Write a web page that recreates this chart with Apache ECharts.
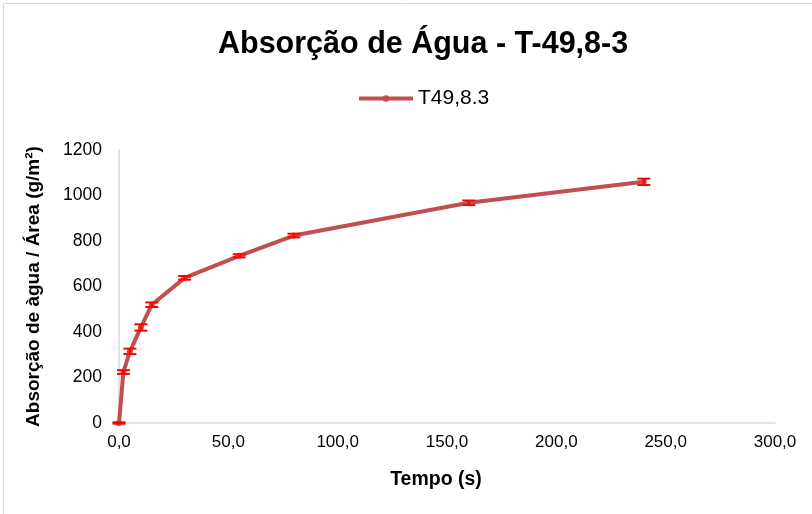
<!DOCTYPE html>
<html><head><meta charset="utf-8">
<script src="https://cdn.jsdelivr.net/npm/echarts@6/dist/echarts.min.js"></script>
<style>html,body{margin:0;padding:0;background:#fff}#c{width:812px;height:514px}</style>
</head><body><div id="c"></div>
<script>
const tempo = [0, 2, 5, 10, 15, 30, 55, 80, 160, 240];
const absorcao = [0, 224, 315, 420, 520, 638, 735, 824, 968, 1060];
const erro = [3, 8, 12, 14, 10, 8, 7, 8, 10, 14];
const seriesName = 'T49,8.3';

const lineData = tempo.map((t, i) => [t, absorcao[i]]);
const errData = tempo.map((t, i) => [t, absorcao[i] - erro[i], absorcao[i] + erro[i]]);

const FONT = 'Liberation Sans, Arial, sans-serif';
const chart = echarts.init(document.getElementById('c'));
chart.setOption({
  animation: false,
  backgroundColor: '#fff',
  graphic: [
    {type: 'line', shape: {x1: 3.5, y1: 3.5, x2: 812, y2: 3.5}, style: {stroke: '#D9D9D9', lineWidth: 1}},
    {type: 'line', shape: {x1: 3.5, y1: 3.5, x2: 3.5, y2: 514}, style: {stroke: '#D9D9D9', lineWidth: 1}}
  ],
  title: {
    text: 'Absorção de Água - T-49,8-3',
    left: 213, top: 24,
    textStyle: {fontFamily: FONT, fontSize: 30.5, fontWeight: 'bold', color: '#000'}
  },
  legend: {
    top: 83, left: 352,
    itemWidth: 54, itemHeight: 8, itemGap: 10,
    lineStyle: {width: 4},
    textStyle: {fontFamily: FONT, fontSize: 21, color: '#000'},
    data: [seriesName]
  },
  grid: {left: 119, right: 37, top: 150, bottom: 91},
  xAxis: {
    type: 'value', min: 0, max: 300, interval: 50,
    name: 'Tempo (s)', nameLocation: 'middle', nameGap: 47,
    nameTextStyle: {fontFamily: FONT, fontSize: 19.5, fontWeight: 'bold', color: '#000', padding: [0, 22, 0, 0]},
    axisLine: {show: true, lineStyle: {color: '#D9D9D9', width: 1.5}},
    axisTick: {show: false},
    splitLine: {show: false},
    axisLabel: {fontFamily: FONT, fontSize: 17, color: '#000', margin: 11,
      formatter: v => v.toFixed(1).replace('.', ',')}
  },
  yAxis: {
    type: 'value', min: 0, max: 1200, interval: 200,
    name: 'Absorção de àgua / Área (g/m²)', nameLocation: 'middle', nameGap: 76, nameRotate: 90,
    nameTextStyle: {fontFamily: FONT, fontSize: 19, fontWeight: 'bold', color: '#000'},
    axisLine: {show: true, lineStyle: {color: '#D9D9D9', width: 1.5}},
    axisTick: {show: false},
    splitLine: {show: false},
    axisLabel: {fontFamily: FONT, fontSize: 17.5, color: '#000', margin: 17,
      formatter: v => String(v)}
  },
  series: [
    {
      name: seriesName, type: 'line', data: lineData,
      symbol: 'circle', symbolSize: 6,
      lineStyle: {color: '#C0504D', width: 4},
      itemStyle: {color: '#C0504D'},
      z: 2
    },
    {
      type: 'custom', name: 'err', data: errData, z: 3,
      renderItem: function (params, api) {
        const x = api.value(0);
        const lo = api.coord([x, api.value(1)]);
        const hi = api.coord([x, api.value(2)]);
        const w = 6.5;
        const st = {stroke: '#FF0000', lineWidth: 2};
        return {type: 'group', children: [
          {type: 'line', shape: {x1: lo[0], y1: lo[1], x2: hi[0], y2: hi[1]}, style: st},
          {type: 'line', shape: {x1: lo[0] - w, y1: lo[1], x2: lo[0] + w, y2: lo[1]}, style: st},
          {type: 'line', shape: {x1: hi[0] - w, y1: hi[1], x2: hi[0] + w, y2: hi[1]}, style: st}
        ]};
      }
    }
  ]
});
</script></body></html>
